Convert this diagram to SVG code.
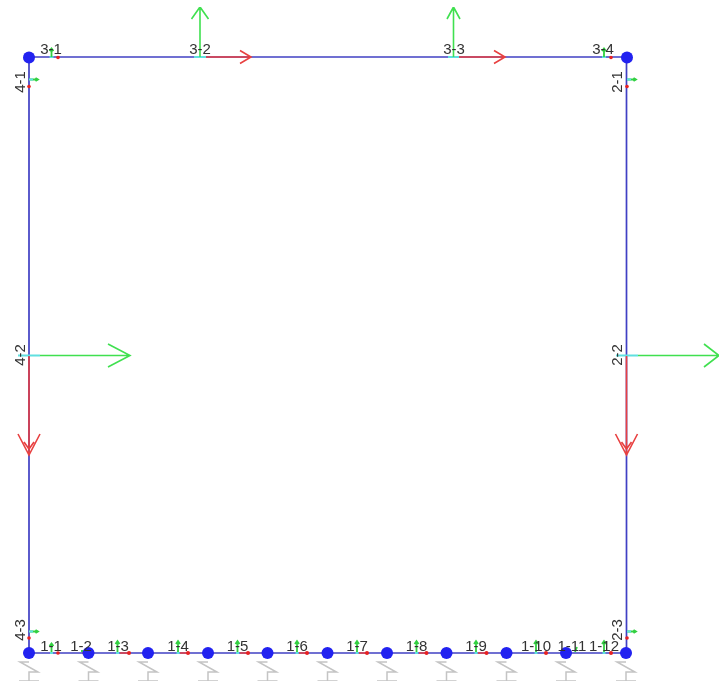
<svg xmlns="http://www.w3.org/2000/svg" width="720" height="686" viewBox="0 0 720 686">
<defs>
<style>
text{font-family:"Liberation Sans",Arial,sans-serif;font-size:15px;fill:#333;text-anchor:middle}
.frame{fill:none;stroke:#4040c4;stroke-width:1.7}
.g{fill:none;stroke:#40e050;stroke-width:1.6}
.gs{fill:#30d040;stroke:#30d040;stroke-width:1.8}
.r{fill:none;stroke:#e84040;stroke-width:1.6}
.c{fill:none;stroke:#60e0e0;stroke-width:2}
.rd{fill:#e82020}
.n{fill:#2020f0}
.s{fill:none;stroke:#c4c4c4;stroke-width:1.5}
</style>
<filter id="soft" x="0" y="0" width="100%" height="100%"><feGaussianBlur stdDeviation="0.45"/></filter>
<g id="sup"><path class="s" d="M0 1H-9L9 11H0V20M-10 20H10"/></g>
</defs>
<rect width="720" height="686" fill="#fff"/>
<g filter="url(#soft)">
<g id="connectors">
<path class="frame" d="M29 653V57H626.500V653H29"/>
<path class="c" d="M49.500 57H53.500M194 57H206M448 57H459M602 57H606"/>
<path class="g" d="M200 57V7M191.500 19L200 7L208.500 19M453.500 57V7M447 19L453.500 7L460 19"/>
<path class="gs" d="M51.500 57V50M49.500 51L51.500 48.500L53.500 51M604 57V50M602 51L604 48.500L606 51"/>
<path class="r" d="M206 57H251M240 50.500L251 57L240 63.500M459 57H505M494 50.500L505 57L494 63.500"/>
<circle class="rd" cx="58" cy="57.500" r="1.800"/><circle class="rd" cx="611" cy="57.500" r="1.800"/>
<path class="gs" d="M29 79.500H37M35.500 78L38 79.500L35.500 81M627 79.500H635M633.500 78L636 79.500L633.500 81M29 631.500H37M35.500 630L38 631.500L35.500 633M627 631.500H635M633.500 630L636 631.500L633.500 633"/>
<path class="c" d="M29 79.500H33M627 79.500H631M29 631.500H33M627 631.500H631M18 355.500H40M616 355.500H638"/>
<path class="g" d="M40 355.500H130M108 344L130 355.500L108 367M638 355.500H719M704 344L719 355.500L704 367"/>
<path class="r" d="M29 356V455M18 434L29 455L40 434M24 442L29 449L34 442M626.500 356V455M615.500 434L626.500 455L637.500 434M621.500 442L626.500 449L631.500 442"/>
<g class="rd"><circle cx="29" cy="86.500" r="1.800"/><circle cx="627" cy="86.500" r="1.800"/><circle cx="29" cy="638" r="1.800"/><circle cx="627" cy="638" r="1.800"/></g>
<path class="r" d="M120 653H128M180 653H187M240 653H247M299 653H306M359 653H366M419 653H426M478 653H486"/>
<path class="gs" d="M51.500 652V645M49.500 646L51.500 643.500L53.500 646M117.500 652V642M115.500 644L117.500 641L119.500 644M178 652V642M176 644L178 641L180 644M237.500 652V642M235.500 644L237.500 641L239.500 644M297 652V642M295 644L297 641L299 644M357 652V642M355 644L357 641L359 644M416.500 652V642M414.500 644L416.500 641L418.500 644M476 652V642M474 644L476 641L478 644M536 652V642M534 644L536 641L538 644M575 652L577 647M604 652V642M602 644L604 641L606 644M82 652V650"/>
<path class="c" d="M50 653H53M116 653H119M176.500 653H179.500M236 653H239M295.500 653H298.500M355.500 653H358.500M415 653H418M474.500 653H477.500M534.500 653H537.500M602.500 653H605.500"/>
<g class="rd"><circle cx="58" cy="653" r="1.800"/><circle cx="84" cy="653" r="1.500"/><circle cx="129" cy="653" r="2"/><circle cx="188" cy="653" r="2"/><circle cx="248" cy="653" r="2"/><circle cx="307" cy="653" r="2"/><circle cx="367" cy="653" r="2"/><circle cx="426.500" cy="653" r="2"/><circle cx="486.500" cy="653" r="2"/><circle cx="546" cy="653" r="2"/><circle cx="611" cy="653" r="2"/></g>
</g>
<g id="nodes">
<g id="n-tl"><circle class="n" cx="29" cy="57.500" r="6"/></g>
<g id="n-tr"><circle class="n" cx="627" cy="57.500" r="6"/></g>
<g id="n1"><use href="#sup" x="29" y="661"/><circle class="n" cx="29" cy="653" r="6"/></g>
<g id="n2"><use href="#sup" x="88.500" y="661"/><circle class="n" cx="88.500" cy="653" r="6"/></g>
<g id="n3"><use href="#sup" x="148" y="661"/><circle class="n" cx="148" cy="653" r="6"/></g>
<g id="n4"><use href="#sup" x="208" y="661"/><circle class="n" cx="208" cy="653" r="6"/></g>
<g id="n5"><use href="#sup" x="267.500" y="661"/><circle class="n" cx="267.500" cy="653" r="6"/></g>
<g id="n6"><use href="#sup" x="327.500" y="661"/><circle class="n" cx="327.500" cy="653" r="6"/></g>
<g id="n7"><use href="#sup" x="387" y="661"/><circle class="n" cx="387" cy="653" r="6"/></g>
<g id="n8"><use href="#sup" x="446.500" y="661"/><circle class="n" cx="446.500" cy="653" r="6"/></g>
<g id="n9"><use href="#sup" x="506.500" y="661"/><circle class="n" cx="506.500" cy="653" r="6"/></g>
<g id="n10"><use href="#sup" x="566" y="661"/><circle class="n" cx="566" cy="653" r="6"/></g>
<g id="n11"><use href="#sup" x="626" y="661"/><circle class="n" cx="626" cy="653" r="6"/></g>
</g>
<g id="labels">
<text x="51" y="54">3-1</text><text x="200" y="54">3-2</text><text x="454" y="54">3-3</text><text x="603" y="54">3-4</text>
<text x="51" y="651">1-1</text><text x="81" y="651">1-2</text><text x="118" y="651">1-3</text><text x="178" y="651">1-4</text><text x="237.500" y="651">1-5</text><text x="297" y="651">1-6</text><text x="357" y="651">1-7</text><text x="416.500" y="651">1-8</text><text x="476" y="651">1-9</text><text x="536" y="651">1-10</text><text x="572" y="651">1-11</text><text x="604" y="651">1-12</text>
<text transform="translate(25 82) rotate(-90)">4-1</text><text transform="translate(25 355) rotate(-90)">4-2</text><text transform="translate(25 630) rotate(-90)">4-3</text>
<text transform="translate(622 82) rotate(-90)">2-1</text><text transform="translate(622 355) rotate(-90)">2-2</text><text transform="translate(622 630) rotate(-90)">2-3</text>
</g>
</g>
</svg>
